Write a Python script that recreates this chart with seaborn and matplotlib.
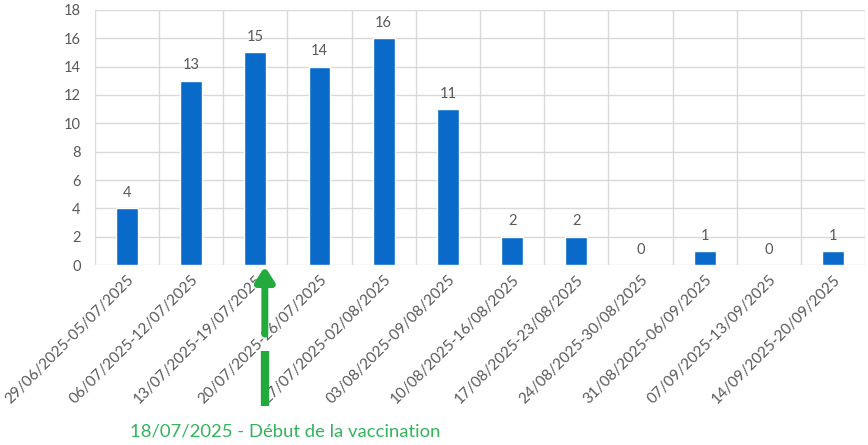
import matplotlib
matplotlib.use("Agg")
import matplotlib.pyplot as plt
import seaborn as sns
import pandas as pd
import numpy as np

weeks = ["29/06/2025-05/07/2025", "06/07/2025-12/07/2025", "13/07/2025-19/07/2025",
         "20/07/2025-26/07/2025", "27/07/2025-02/08/2025", "03/08/2025-09/08/2025",
         "10/08/2025-16/08/2025", "17/08/2025-23/08/2025", "24/08/2025-30/08/2025",
         "31/08/2025-06/09/2025", "07/09/2025-13/09/2025", "14/09/2025-20/09/2025"]
cases = [4, 13, 15, 14, 16, 11, 2, 2, 0, 1, 0, 1]
y_ticks = [0, 2, 4, 6, 8, 10, 12, 14, 16, 18]
annotation = "18/07/2025 - Début de la vaccination"

sns.set_theme(style="white")
plt.rcParams['font.family'] = ['Lato', 'DejaVu Sans']

df = pd.DataFrame({"week": weeks, "cases": cases})

fig = plt.figure(figsize=(8.68, 4.45), dpi=100)
ax = fig.add_axes([0.109, 0.404, 0.888, 0.574])

sns.barplot(data=df, x="week", y="cases", color="#0a6ac9", width=0.34,
            saturation=1, ax=ax, zorder=3)

gray = "#595959"
grid = "#d9d9d9"
ax.set_ylim(0, 18)
ax.set_xlim(-0.5, len(weeks) - 0.5)
ax.set_yticks(y_ticks)
ax.set_yticklabels([str(t) for t in y_ticks], fontsize=10.5, color=gray)
ax.set_xticks(range(len(weeks)))
ax.set_xticklabels(weeks, rotation=45, ha="right", rotation_mode="anchor",
                   fontsize=11, color=gray)
ax.tick_params(axis="x", length=0, pad=5)
ax.tick_params(axis="y", length=0, pad=10)
for t in y_ticks:
    ax.axhline(t, color=grid, lw=1, zorder=1)
for b in np.arange(-0.5, len(weeks), 1.0):
    ax.axvline(b, color=grid, lw=1, zorder=1)
for s in ax.spines.values():
    s.set_visible(False)
ax.set_xlabel("")
ax.set_ylabel("")

for i, v in enumerate(cases):
    ax.text(i, v + 0.6, str(v), ha="center", va="bottom", fontsize=10.5, color=gray)

# green arrow marking vaccination start
green = "#22aa3c"
x_arrow = 2.15
trans = ax.get_xaxis_transform()
ax.annotate("", xy=(x_arrow, -0.005), xytext=(x_arrow, -0.27), xycoords=trans,
            textcoords=trans, annotation_clip=False,
            arrowprops=dict(arrowstyle="-|>,head_width=0.45,head_length=0.7",
                            color=green, lw=5, shrinkA=0, shrinkB=0))
ax.plot([x_arrow, x_arrow], [-0.335, -0.55], transform=trans, color=green,
        lw=6, solid_capstyle="butt", clip_on=False)

fig.text(0.15, 0.012, annotation, color="#33b35a", fontsize=13.3, ha="left", va="bottom")

fig.savefig("out.png", dpi=100)
